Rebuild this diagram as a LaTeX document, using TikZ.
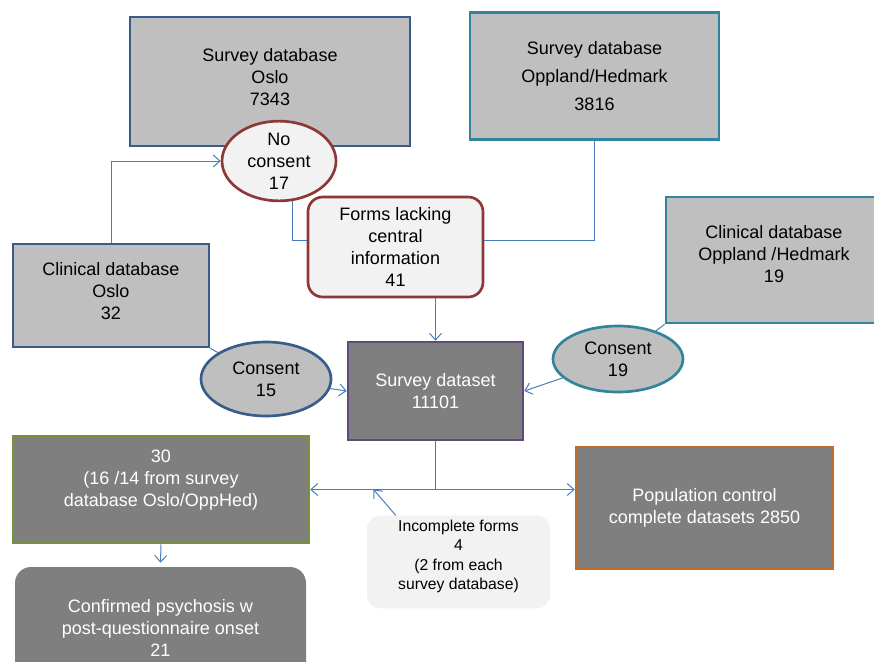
\documentclass[tikz,border=0pt]{standalone}
\usepackage{fontspec}
\setmainfont{Liberation Sans}
\usetikzlibrary{arrows.meta}
\usetikzlibrary{shapes.geometric}

\definecolor{boxlight}{RGB}{191,191,191}
\definecolor{boxdark}{RGB}{127,127,127}
\definecolor{formfill}{RGB}{242,242,242}
\definecolor{osloblue}{RGB}{56,93,138}
\definecolor{hedteal}{RGB}{49,132,155}
\definecolor{lackred}{RGB}{140,56,54}
\definecolor{setpurple}{RGB}{96,74,123}
\definecolor{casegreen}{RGB}{118,146,60}
\definecolor{ctrlorange}{RGB}{192,110,48}
\definecolor{lineblue}{RGB}{74,126,187}

\tikzset{
  every node/.style={align=center, font=\fontsize{13.5}{16.5}\selectfont},
  dbbox/.style={rectangle, draw, line width=2pt, fill=boxlight},
  outbox/.style={rectangle, draw, line width=2pt, fill=boxdark, text=white},
  selell/.style={ellipse, draw, line width=2pt, inner sep=0pt},
}

\begin{document}
\begin{tikzpicture}[x=0.75pt, y=-0.75pt]
\clip (0,0) rectangle (874,661);
%\fill[white] (0,0) rectangle (874,661);
\begin{scope}
    \node[dbbox, draw=osloblue, minimum width=210pt, minimum height=96.75pt] (svo) at (270,81.5)
        {Survey database\\Oslo\\7343\\[-9pt]\mbox{}};
    \node[dbbox, draw=hedteal, minimum width=186.75pt, minimum height=95.25pt,
          font=\fontsize{13.5}{21}\selectfont] (svh) at (594.5,76)
        {Survey database\\Oppland/Hedmark\\3816};
    \node[dbbox, draw=osloblue, minimum width=147pt, minimum height=77.25pt] (clo) at (111,295.5)
        {Clinical database\\Oslo\\32\\[-10pt]\mbox{}};
    \node[dbbox, draw=hedteal, minimum width=162pt, minimum height=94.5pt] (clh) at (774,260)
        {Clinical database\\Oppland /Hedmark\\19\\[-7.5pt]\mbox{}};

    \node[selell, draw=lackred, fill=formfill, minimum width=85.5pt, minimum height=58.5pt] (nocon) at (279,161)
        {No\\consent\\17};
    \node[rectangle, rounded corners=11pt, draw=lackred, line width=2pt, fill=formfill,
          minimum width=131.25pt, minimum height=75pt] (forms) at (395.5,247)
        {Forms lacking\\central\\information\\41};
    \node[selell, draw=osloblue, fill=boxlight, minimum width=97.5pt, minimum height=55.5pt] (con15) at (266,379)
        {Consent\\15};
    \node[selell, draw=hedteal, fill=boxlight, minimum width=97.5pt, minimum height=49.5pt] (con19) at (618,359)
        {Consent\\19};

    \node[outbox, draw=setpurple, minimum width=131.25pt, minimum height=73.5pt] (sds) at (435.5,391)
        {Survey dataset\\11101};
    \node[outbox, draw=casegreen, minimum width=222pt, minimum height=80.25pt] (b30) at (161,489.5)
        {30\\(16 /14 from survey\\database Oslo/OppHed)\\\mbox{}};
    \node[outbox, draw=ctrlorange, minimum width=192.75pt, minimum height=91.5pt] (pop) at (704.5,508)
        {Population control\\complete datasets 2850};
    \node[rectangle, rounded corners=12pt, fill=boxdark, text=white,
          minimum width=218.25pt, minimum height=91.5pt] (conf) at (160.5,628)
        {Confirmed psychosis w\\post-questionnaire onset\\21};
    \node[rectangle, rounded corners=10pt, fill=formfill, minimum width=137.25pt, minimum height=66pt,
          font=\fontsize{11.8}{14.6}\selectfont] (inc) at (458.5,562)
        {Incomplete forms\\4\\(2 from each\\survey database)\\[-4pt]\mbox{}};
\end{scope}

\begin{scope}[>={Straight Barb[length=5pt, width=9pt]},
              every edge/.style={draw=lineblue, line width=0.75pt}]
    \coordinate (split) at (sds.south |- b30.east);
    \coordinate (joinpt) at ([xshift=-46.5pt]split);
    \path [-] (clo.south east) edge (con15);
    \path [-] (clh.south west) edge (con19);
    \path [->] (con15) edge (sds.west);
    \path [->] (con19) edge (sds.east);
    \path [->] (forms.south -| sds.north) edge (sds.north);
    \path [-] (sds.south) edge (split);
    \path [->] (split) edge (b30.east);
    \path [->] (split) edge (split -| pop.west);
    \path [->] ([xshift=21.75pt]inc.north west) edge (joinpt);
    \path [->] (b30.south) edge ([yshift=3pt]conf.north);
\end{scope}
\draw[lineblue, line width=0.75pt, -{Straight Barb[length=5pt, width=9pt]}] (clo.north) |- (nocon.west);
\draw[lineblue, line width=0.75pt] (nocon.-72) |- ([yshift=5.25pt]forms.west);
\draw[lineblue, line width=0.75pt] (svh.south) |- ([yshift=5.25pt]forms.east);
\end{tikzpicture}
\end{document}
